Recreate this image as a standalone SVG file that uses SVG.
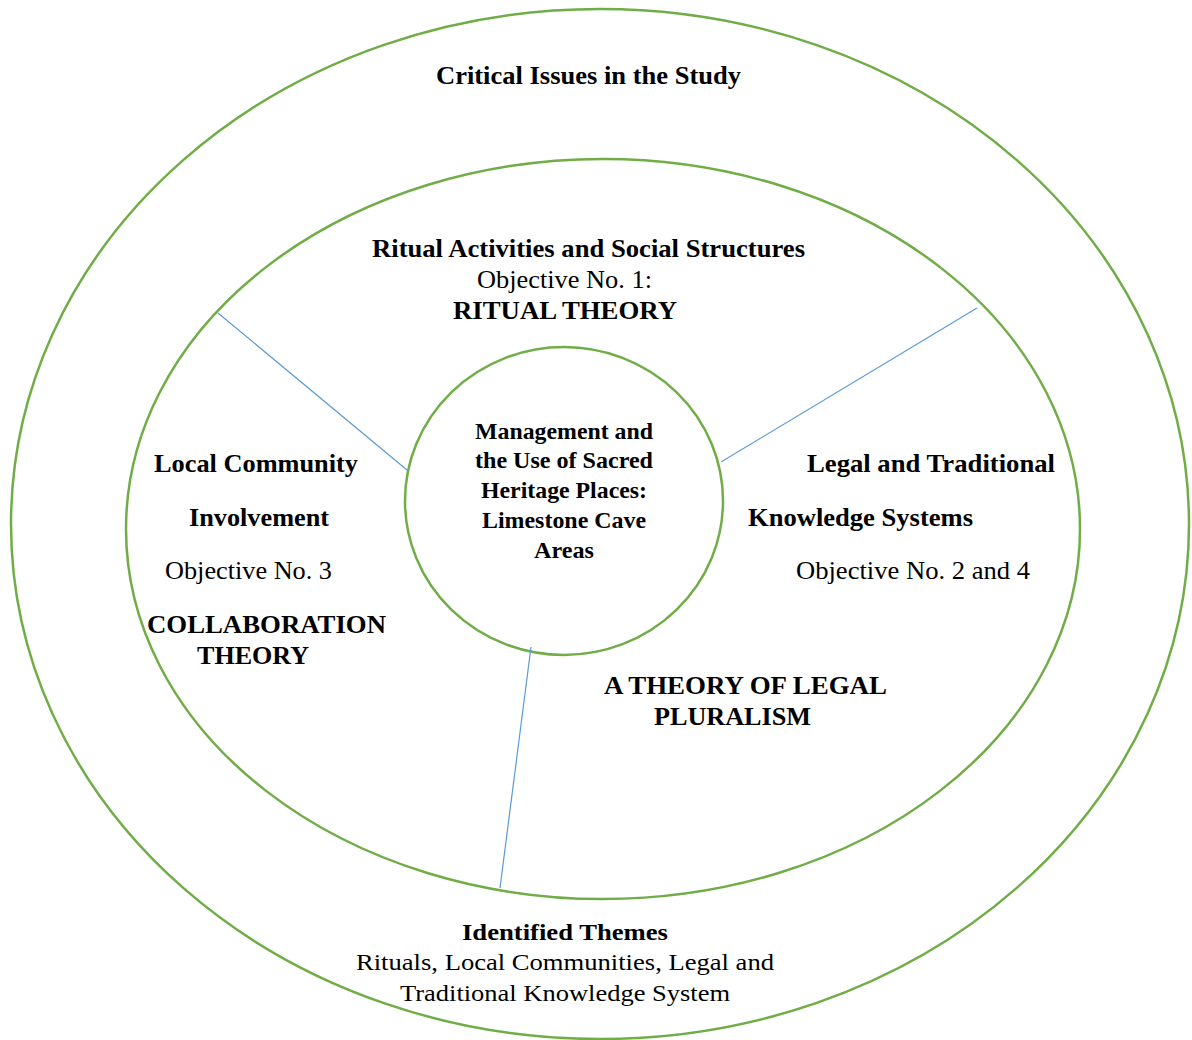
<svg xmlns="http://www.w3.org/2000/svg" width="1192" height="1040" viewBox="0 0 1192 1040">
<style>
.ring{fill:none;stroke:#70AD47;stroke-width:2.5}
.conn{stroke:#5B9BD5;stroke-width:1.2;fill:none}
text{font-family:"Liberation Serif","Times New Roman",serif;font-size:26px;fill:#000}
.b{font-weight:bold}
.s{font-size:24px}
</style>
<rect width="1192" height="1040" fill="#fff"/>
<g id="outer">
<ellipse class="ring" cx="600" cy="524" rx="589" ry="515"/>
<text class="b" x="436" y="84" font-size="27" textLength="305" lengthAdjust="spacingAndGlyphs">Critical Issues in the Study</text>
<text class="b s" x="462" y="940" textLength="206" lengthAdjust="spacingAndGlyphs">Identified Themes</text>
<text class="s" x="356" y="970" textLength="418" lengthAdjust="spacingAndGlyphs">Rituals, Local Communities, Legal and</text>
<text class="s" x="400" y="1001" textLength="330" lengthAdjust="spacingAndGlyphs">Traditional Knowledge System</text>
</g>
<g id="middle">
<ellipse class="ring" cx="603" cy="529" rx="477" ry="370"/>
</g>
<g id="ritual">
<text class="b" x="372" y="257" textLength="433" lengthAdjust="spacingAndGlyphs">Ritual Activities and Social Structures</text>
<text x="477" y="288" textLength="175" lengthAdjust="spacingAndGlyphs">Objective No. 1:</text>
<text class="b" x="453" y="319" textLength="224" lengthAdjust="spacingAndGlyphs">RITUAL THEORY</text>
</g>
<g id="community">
<text class="b" x="154" y="472" textLength="204" lengthAdjust="spacingAndGlyphs">Local Community</text>
<text class="b" x="189" y="526" textLength="140" lengthAdjust="spacingAndGlyphs">Involvement</text>
<text x="165" y="579" textLength="167" lengthAdjust="spacingAndGlyphs">Objective No. 3</text>
<text class="b" x="147" y="633" textLength="239" lengthAdjust="spacingAndGlyphs">COLLABORATION</text>
<text class="b" x="197" y="664" textLength="112" lengthAdjust="spacingAndGlyphs">THEORY</text>
</g>
<g id="legal">
<text class="b" x="807" y="472" textLength="248" lengthAdjust="spacingAndGlyphs">Legal and Traditional</text>
<text class="b" x="748" y="526" textLength="225" lengthAdjust="spacingAndGlyphs">Knowledge Systems</text>
<text x="796" y="579" textLength="234" lengthAdjust="spacingAndGlyphs">Objective No. 2 and 4</text>
<text class="b" x="604" y="694" textLength="283" lengthAdjust="spacingAndGlyphs">A THEORY OF LEGAL</text>
<text class="b" x="654" y="725" textLength="157" lengthAdjust="spacingAndGlyphs">PLURALISM</text>
</g>
<g id="center">
<ellipse class="ring" cx="564" cy="501" rx="159" ry="154" fill="#fff"/>
<text class="b s" x="475" y="439" textLength="178" lengthAdjust="spacingAndGlyphs">Management and</text>
<text class="b s" x="475" y="468" textLength="178" lengthAdjust="spacingAndGlyphs">the Use of Sacred</text>
<text class="b s" x="481" y="498" textLength="166" lengthAdjust="spacingAndGlyphs">Heritage Places:</text>
<text class="b s" x="482" y="528" textLength="164" lengthAdjust="spacingAndGlyphs">Limestone Cave</text>
<text class="b s" x="534" y="558" textLength="60" lengthAdjust="spacingAndGlyphs">Areas</text>
</g>
<g id="connectors">
<line class="conn" x1="218" y1="313" x2="407" y2="470"/>
<line class="conn" x1="977" y1="308" x2="721" y2="462"/>
<line class="conn" x1="531" y1="647" x2="500" y2="888"/>
</g>
</svg>
